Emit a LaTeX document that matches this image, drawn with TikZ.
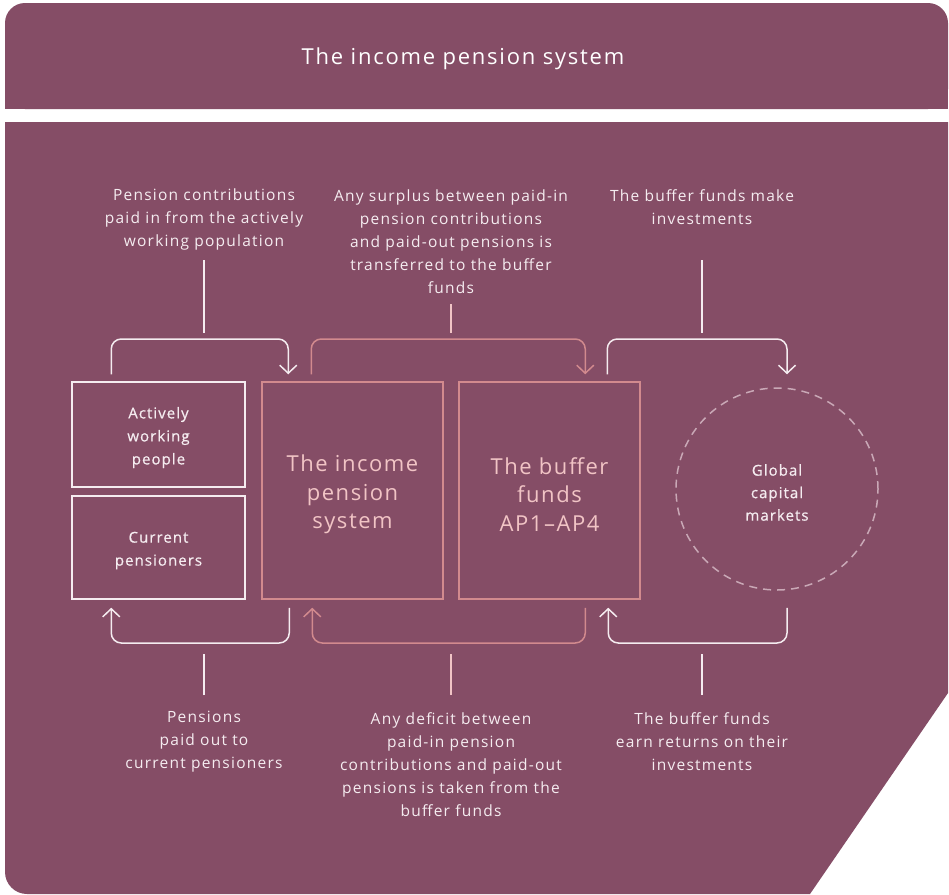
\documentclass[tikz,border=0pt]{standalone}
\usepackage{fontspec}
\setmainfont{Open Sans}[LetterSpace=8]
\newfontfamily\widefont{Open Sans}[LetterSpace=7]
\newfontfamily\headfont{Open Sans}[LetterSpace=8]
\newfontfamily\boxfont{Open Sans}[LetterSpace=7,FakeBold=0.6]
\usetikzlibrary{arrows.meta,calc}
\definecolor{plum}{HTML}{854D66}
\definecolor{rose}{HTML}{D28A8E}
\definecolor{blush}{HTML}{F1C4C5}
\definecolor{paper}{HTML}{F5ECF0}
\definecolor{mist}{HTML}{C9A8B6}
\begin{document}
\begin{tikzpicture}[x=1pt,y=-1pt,
  lbl/.style={text=paper,align=center,inner sep=0pt,font=\fontsize{15.5}{23}\selectfont},
  smallbox/.style={draw=paper,line width=1.5pt,text=paper,align=center,inner sep=0pt,
    font=\boxfont\fontsize{15}{23}\selectfont},
  bigbox/.style={draw=rose,line width=1.5pt,text=blush,align=center,inner sep=0pt,
    minimum width=181pt,minimum height=217pt,font=\widefont\fontsize{22}{28.5}\selectfont},
  flow/.style={line width=1.5pt,rounded corners=10pt,-{Straight Barb[length=8pt,width=17pt,line width=1.5pt]}},
  wflow/.style={flow,draw=paper},
  pflow/.style={flow,draw=rose},
  leader/.style={line width=1.5pt},
]
\useasboundingbox (0,0) rectangle (949,894);
\fill[white] (0,0) rectangle (949,894);

% title banner with rounded top corners
\fill[plum,rounded corners=20pt] (5,3) rectangle (948,109);
\fill[plum] (5,60) rectangle (948,109);
\node[text=white,font=\headfont\fontsize{22}{24}\selectfont] (title) at (463,59) {The income pension system};

% main panel with rounded lower-left corner and cut lower-right corner
\fill[plum] (5,122) -- (948,122) -- (948,693) -- (810,894) -- (27,894)
  .. controls (14.85,894) and (5,884.15) .. (5,872) -- cycle;

% rails used by the flow arrows
\coordinate (toprail) at (0,339);
\coordinate (botrail) at (0,643);

% boxes and their captions
\node[smallbox,minimum width=173pt,minimum height=105pt] (awp) at (158.5,434.5) {};
\node[smallbox,minimum width=173pt,minimum height=103pt] (cp) at (158.5,547.5) {};
\node[smallbox,draw=none] (awptext) at (158.5,437.5) {Actively\\working\\people};
\node[smallbox,draw=none] (cptext) at (158.5,550.5) {Current\\pensioners};
\node[bigbox] (ips) at (352.5,490.5) {};
\node[bigbox] (buf) at (549.5,490.5) {};
\node[bigbox,draw=none,minimum height=0pt] (ipstext) at (352.5,494.5) {The income\\pension\\system};
\node[bigbox,draw=none,minimum height=0pt] (buftext) at (549.5,494.5) {The buffer\\funds\\AP1–AP4};
\node[circle,draw=mist,line width=1.5pt,dash pattern=on 8pt off 6pt,minimum size=202pt] (gcm) at (777,489) {};
\node[smallbox,draw=none,font=\boxfont\fontsize{15}{22.5}\selectfont] (gcmtext) at (777,492.5) {Global\\capital\\markets};

% upper flows
\draw[wflow] ([xshift=40pt,yshift=7pt]awp.north west) -- ([xshift=40pt]awp.north west |- toprail)
  -| ([xshift=27pt,yshift=7pt]ips.north west);
\draw[pflow] ([xshift=50pt,yshift=7pt]ips.north west) -- ([xshift=50pt]ips.north west |- toprail)
  -| ([xshift=127pt,yshift=7pt]buf.north west);
\draw[wflow] ([xshift=149pt,yshift=7pt]buf.north west) -- ([xshift=149pt]buf.north west |- toprail)
  -| ([xshift=10pt,yshift=13pt]gcm.north);

% lower flows
\draw[wflow] ([xshift=28pt,yshift=-8pt]ips.south west) -- ([xshift=28pt]ips.south west |- botrail)
  -| ([xshift=40pt,yshift=-8pt]cp.south west);
\draw[pflow] ([xshift=127pt,yshift=-8pt]buf.south west) -- ([xshift=127pt]buf.south west |- botrail)
  -| ([xshift=51pt,yshift=-8pt]ips.south west);
\draw[wflow] ([xshift=10pt,yshift=-17pt]gcm.south) -- ([xshift=10pt]gcm.south |- botrail)
  -| ([xshift=150pt,yshift=-8pt]buf.south west);

% upper labels
\node[lbl] (tl) at (204,219) {Pension contributions\\paid in from the actively\\working population};
\node[lbl] (tm) at (451,242) {Any surplus between paid-in\\pension contributions\\and paid-out pensions is\\transferred to the buffer\\funds};
\node[lbl] (tr) at (702,207.5) {The buffer funds make\\investments};

% lower labels
\node[lbl] (bl) at (204,742) {Pensions\\paid out to\\current pensioners};
\node[lbl] (bm) at (451,764.5) {Any deficit between\\paid-in pension\\contributions and paid-out\\pensions is taken from the\\buffer funds};
\node[lbl] (br) at (702,742) {The buffer funds\\earn returns on their\\investments};

% leaders from labels to the flows
\draw[leader,draw=paper,shorten >=6pt] (tl.south |- 0,260) -- (tl.south |- toprail);
\draw[leader,draw=blush,shorten >=6pt] (tm.south |- 0,304) -- (tm.south |- toprail);
\draw[leader,draw=paper,shorten >=6pt] (tr.south |- 0,260) -- (tr.south |- toprail);
\draw[leader,draw=paper,shorten >=11pt] (bl.north |- 0,695) -- (bl.north |- botrail);
\draw[leader,draw=blush,shorten >=11pt] (bm.north |- 0,695) -- (bm.north |- botrail);
\draw[leader,draw=paper,shorten >=11pt] (br.north |- 0,695) -- (br.north |- botrail);
\end{tikzpicture}
\end{document}
